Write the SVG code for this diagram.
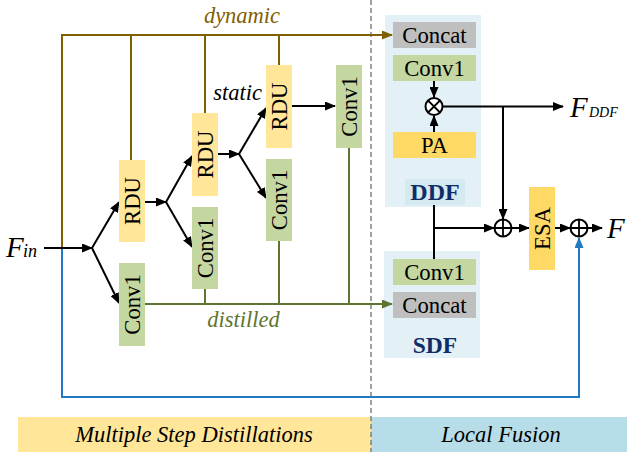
<svg xmlns="http://www.w3.org/2000/svg" width="627" height="455" viewBox="0 0 627 455" font-family="'Liberation Serif', 'DejaVu Serif', serif">
<style>
text{font-family:"Liberation Serif","DejaVu Serif",serif;fill:#000}
.lbl{font-size:22.7px;text-anchor:middle;dominant-baseline:central}
.it{font-style:italic}
.yl{fill:#ffe699}
.yd{fill:#ffd966}
.gr{fill:#c5d7a0}
.gy{fill:#bfbfbf}
.bg{fill:#e3f0f6}
.k{stroke:#000;stroke-width:2;fill:none}
.br{stroke:#7f6000;stroke-width:2;fill:none}
.gn{stroke:#5e7430;stroke-width:2;fill:none}
.bl{stroke:#1f7ac3;stroke-width:2;fill:none}
.bold{font-weight:bold;fill:#0f2d69}
</style>
<defs>
<marker id="ak" markerUnits="userSpaceOnUse" markerWidth="11" markerHeight="9" refX="10" refY="4.5" orient="auto"><path d="M0,0 L11,4.5 L0,9 z" fill="#000"/></marker>
<marker id="abr" markerUnits="userSpaceOnUse" markerWidth="11" markerHeight="9" refX="10" refY="4.5" orient="auto"><path d="M0,0 L11,4.5 L0,9 z" fill="#7f6000"/></marker>
<marker id="agn" markerUnits="userSpaceOnUse" markerWidth="11" markerHeight="9" refX="10" refY="4.5" orient="auto"><path d="M0,0 L11,4.5 L0,9 z" fill="#5e7430"/></marker>
<marker id="abl" markerUnits="userSpaceOnUse" markerWidth="11" markerHeight="9" refX="10" refY="4.5" orient="auto"><path d="M0,0 L11,4.5 L0,9 z" fill="#1f7ac3"/></marker>
</defs>

<g id="bands">
<rect x="18" y="417" width="353" height="35" class="yl"/>
<rect x="371" y="417" width="256" height="35" fill="#b7dde8"/>
<text x="194" y="442" class="it" font-size="22.5" text-anchor="middle">Multiple Step Distillations</text>
<text x="501" y="442" class="it" font-size="22.5" text-anchor="middle">Local Fusion</text>
</g>

<line x1="371" y1="0" x2="371" y2="452" stroke="#808080" stroke-width="1.5" stroke-dasharray="5,3"/>

<g id="ddf-panel">
<rect x="385" y="15" width="96" height="192" class="bg"/>
<rect x="405" y="179" width="60" height="26" fill="#d5e9f1"/>
<text x="435" y="192" class="lbl bold" font-size="24" style="font-size:24px">DDF</text>
</g>
<g id="sdf-panel">
<rect x="384" y="251" width="96" height="107" class="bg"/>
<text x="435" y="345" class="lbl bold" style="font-size:23.5px">SDF</text>
</g>

<g id="connectors">
<polyline class="br" points="62,248 62,35 392,35" marker-end="url(#abr)"/>
<line class="br" x1="131" y1="35" x2="131" y2="160"/>
<line class="br" x1="205" y1="35" x2="205" y2="113"/>
<line class="br" x1="279" y1="35" x2="279" y2="65"/>
<polyline class="bl" points="62,248 62,397 579,397 579,238" marker-end="url(#abl)"/>
<line class="k" x1="44" y1="248" x2="92" y2="248" marker-end="url(#ak)"/>
<line class="k" x1="92" y1="248" x2="119" y2="202" marker-end="url(#ak)"/>
<line class="k" x1="92" y1="248" x2="119" y2="303" marker-end="url(#ak)"/>
<line class="k" x1="145" y1="202" x2="166" y2="202" marker-end="url(#ak)"/>
<line class="k" x1="166" y1="202" x2="192" y2="156" marker-end="url(#ak)"/>
<line class="k" x1="166" y1="202" x2="192" y2="247" marker-end="url(#ak)"/>
<line class="k" x1="218" y1="154" x2="239" y2="154" marker-end="url(#ak)"/>
<line class="k" x1="239" y1="154" x2="266" y2="108" marker-end="url(#ak)"/>
<line class="k" x1="239" y1="154" x2="266" y2="198" marker-end="url(#ak)"/>
<line class="k" x1="292" y1="106" x2="335" y2="106" marker-end="url(#ak)"/>
<line class="gn" x1="145" y1="304" x2="392" y2="304" marker-end="url(#agn)"/>
<line class="gn" x1="205" y1="289" x2="205" y2="304"/>
<line class="gn" x1="279" y1="241" x2="279" y2="304"/>
<line class="gn" x1="349" y1="148" x2="349" y2="304"/>
<line class="k" x1="434" y1="81" x2="434" y2="97" marker-end="url(#ak)"/>
<line class="k" x1="434" y1="132" x2="434" y2="116" marker-end="url(#ak)"/>
<line class="k" x1="443" y1="106.5" x2="563" y2="106.5" marker-end="url(#ak)"/>
<line class="k" x1="503" y1="106.5" x2="503" y2="219" marker-end="url(#ak)"/>
<line class="k" x1="434" y1="205" x2="434" y2="259"/>
<line class="k" x1="434" y1="228" x2="494" y2="228" marker-end="url(#ak)"/>
<line class="k" x1="512" y1="228" x2="529" y2="228" marker-end="url(#ak)"/>
<line class="k" x1="555" y1="228" x2="570" y2="228" marker-end="url(#ak)"/>
<line class="k" x1="588" y1="228" x2="602" y2="228" marker-end="url(#ak)"/>
</g>

<g id="rdu1"><rect x="119" y="160" width="26" height="82" class="yl"/><text class="lbl" transform="translate(132,201) rotate(-90)">RDU</text></g>
<g id="conv1-a"><rect x="119" y="263" width="26" height="83" class="gr"/><text class="lbl" transform="translate(132,304.5) rotate(-90)">Conv1</text></g>
<g id="rdu2"><rect x="192" y="113" width="26" height="83" class="yl"/><text class="lbl" transform="translate(205,154.5) rotate(-90)">RDU</text></g>
<g id="conv1-b"><rect x="192" y="207" width="26" height="82" class="gr"/><text class="lbl" transform="translate(205,248) rotate(-90)">Conv1</text></g>
<g id="rdu3"><rect x="266" y="65" width="26" height="83" class="yl"/><text class="lbl" transform="translate(279,106.5) rotate(-90)">RDU</text></g>
<g id="conv1-c"><rect x="266" y="159" width="26" height="82" class="gr"/><text class="lbl" transform="translate(279,200) rotate(-90)">Conv1</text></g>
<g id="conv1-d"><rect x="336" y="65" width="26" height="83" class="gr"/><text class="lbl" transform="translate(349,106.5) rotate(-90)">Conv1</text></g>

<g id="ddf-concat"><rect x="393" y="22" width="83" height="26" class="gy"/><text x="434.5" y="35" class="lbl">Concat</text></g>
<g id="ddf-conv1"><rect x="393" y="55" width="83" height="26" class="gr"/><text x="434.5" y="68" class="lbl">Conv1</text></g>
<g id="otimes"><circle cx="434" cy="106.5" r="8.5" fill="#fff" stroke="#000" stroke-width="2"/><path d="M428,100.5 L440,112.5 M440,100.5 L428,112.5" stroke="#000" stroke-width="1.8"/></g>
<g id="pa"><rect x="393" y="132" width="83" height="26" class="yd"/><text x="434.5" y="145" class="lbl">PA</text></g>

<g id="sdf-conv1"><rect x="393" y="259" width="83" height="26" class="gr"/><text x="434.5" y="272" class="lbl">Conv1</text></g>
<g id="sdf-concat"><rect x="393" y="292" width="83" height="26" class="gy"/><text x="434.5" y="305" class="lbl">Concat</text></g>

<g id="plus1"><circle cx="503" cy="228" r="8.5" fill="#fff" stroke="#000" stroke-width="2"/><path d="M494.5,228 H511.5 M503,219.5 V236.5" stroke="#000" stroke-width="1.8"/></g>
<g id="esa"><rect x="529" y="187" width="26" height="83" class="yd"/><text class="lbl" transform="translate(542,228.5) rotate(-90)">ESA</text></g>
<g id="plus2"><circle cx="579" cy="228" r="8.5" fill="#fff" stroke="#000" stroke-width="2"/><path d="M570.5,228 H587.5 M579,219.5 V236.5" stroke="#000" stroke-width="1.8"/></g>

<g id="labels">
<text x="242" y="23" class="it" font-size="22.5" text-anchor="middle" style="fill:#7f6000">dynamic</text>
<text x="237.5" y="100" class="it" font-size="22.5" text-anchor="middle">static</text>
<text x="243.5" y="327" class="it" font-size="22.5" text-anchor="middle" style="fill:#5e7430">distilled</text>
<text x="6" y="257" class="it" font-size="29">F</text>
<text x="23" y="257" class="it" font-size="18">in</text>
<text x="570" y="117" class="it" font-size="29">F</text>
<text x="589" y="117" class="it" font-size="14">DDF</text>
<text x="607" y="238" class="it" font-size="29">F</text>
</g>
</svg>
